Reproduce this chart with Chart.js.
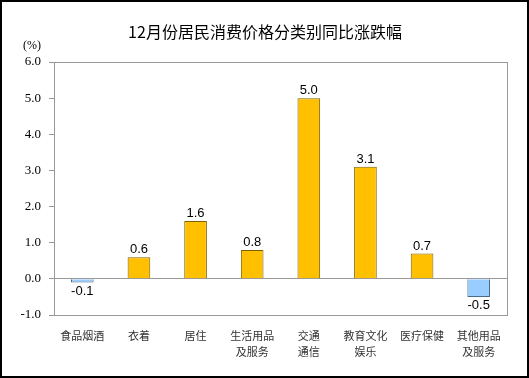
<!DOCTYPE html>
<html>
<head>
<meta charset="utf-8">
<script src="https://cdn.jsdelivr.net/npm/chart.js@4"></script>
<style>
  html,body{margin:0;padding:0;background:#fff;}
  #wrap{width:529px;height:378px;}
</style>
</head>
<body>
<div id="wrap"><canvas id="cpi_chart" width="529" height="378"></canvas></div>
<script>
// data
const chart_title = "12月份居民消费价格分类别同比涨跌幅";
const unit_label = "(%)";
const categories = [["食品烟酒"], ["衣着"], ["居住"], ["生活用品", "及服务"], ["交通", "通信"], ["教育文化", "娱乐"], ["医疗保健"], ["其他用品", "及服务"]];
const yoy_values = [-0.1, 0.6, 1.6, 0.8, 5.0, 3.1, 0.7, -0.5];
const y_ticks = [-1.0, 0.0, 1.0, 2.0, 3.0, 4.0, 5.0, 6.0];

const ctx = document.getElementById("cpi_chart").getContext("2d");

// bar colours depend on sign
const fillColors = yoy_values.map(v => v < 0 ? "#99CCFF" : "#FFC000");
const edgeColors = yoy_values.map(v => v < 0 ? "#4A6A8C" : "#7F6000");

// frame, title, unit and value labels
const decorPlugin = {
  id: "decor",
  beforeDraw(chart) {
    const c = chart.ctx;
    c.save();
    c.fillStyle = "#fff";
    c.fillRect(0, 0, chart.width, chart.height);
    c.restore();
  },
  afterDraw(chart) {
    const c = chart.ctx;
    const a = chart.chartArea;
    c.save();
    // plot box
    c.strokeStyle = "#999";
    c.lineWidth = 1;
    c.strokeRect(Math.round(a.left) + 0.5, Math.round(a.top) + 0.5, Math.round(a.right - a.left), Math.round(a.bottom - a.top));
    // outer frame
    c.strokeStyle = "#000";
    c.lineWidth = 2;
    c.strokeRect(1, 1, chart.width - 2, chart.height - 2);
    // title
    c.fillStyle = "#000";
    c.font = "16px 'Noto Sans CJK SC'";
    c.textAlign = "center";
    c.textBaseline = "middle";
    c.fillText(chart_title, 265, 32);
    // unit
    c.font = "12px 'Liberation Serif'";
    c.fillText(unit_label, 32, 46);
    // value labels
    const meta = chart.getDatasetMeta(0);
    c.font = "13px 'Liberation Sans'";
    meta.data.forEach((bar, i) => {
      const v = yoy_values[i];
      if (v >= 0) {
        c.textBaseline = "bottom";
        c.fillText(v.toFixed(1), bar.x, bar.y - 1);
      } else {
        c.textBaseline = "top";
        c.fillText(v.toFixed(1), bar.x, bar.y + 2);
      }
    });
    c.restore();
  }
};

new Chart(ctx, {
  type: "bar",
  data: {
    labels: categories,
    datasets: [{
      data: yoy_values,
      backgroundColor: fillColors,
      borderColor: edgeColors,
      borderWidth: 1,
      categoryPercentage: 1,
      barPercentage: 0.4
    }]
  },
  options: {
    responsive: false,
    animation: false,
    layout: { padding: { top: 62, right: 22, left: 0, bottom: 0 } },
    plugins: { legend: { display: false }, tooltip: { enabled: false }, title: { display: false } },
    scales: {
      x: {
        grid: { display: false },
        border: { display: false },
        ticks: {
          color: "#333",
          font: { family: "'Noto Sans CJK SC'", size: 11, lineHeight: 1.45 },
          padding: 5,
          maxRotation: 0,
          autoSkip: false
        },
        afterFit(scale) { scale.height = 63; }
      },
      y: {
        min: -1,
        max: 6,
        afterBuildTicks(scale) { scale.ticks = y_ticks.map(v => ({ value: v })); },
        grid: {
          color: c => (c.tick && c.tick.value === 0) ? "#999" : "transparent",
          tickColor: "#999",
          tickLength: 5,
          drawOnChartArea: true
        },
        border: { display: false },
        ticks: {
          color: "#000",
          font: { family: "'Liberation Serif'", size: 13 },
          padding: 8,
          callback: v => Number(v).toFixed(1)
        },
        afterFit(scale) { scale.width = 54; }
      }
    }
  },
  plugins: [decorPlugin]
});
</script>
</body>
</html>
